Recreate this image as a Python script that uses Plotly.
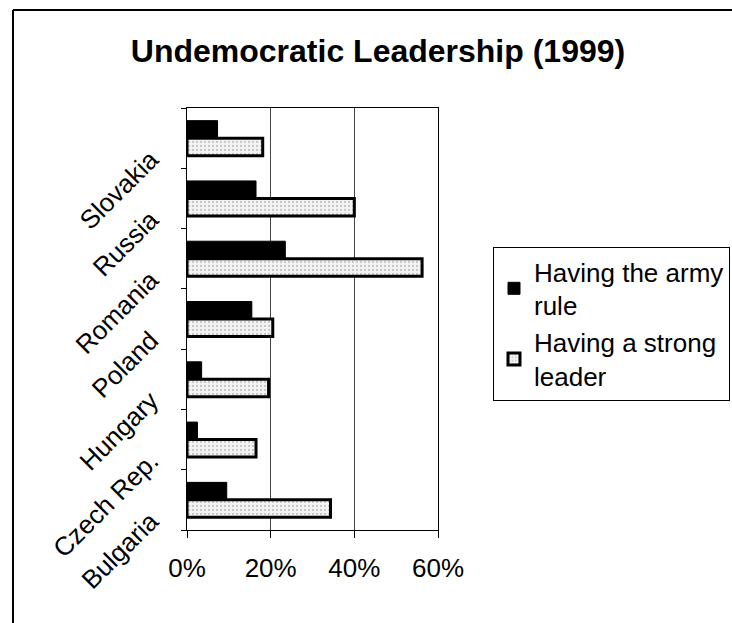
import plotly.graph_objects as go

countries = ["Bulgaria", "Czech Rep.", "Hungary", "Poland", "Romania", "Russia", "Slovakia"]
army_rule = [9.5, 2.5, 3.5, 15.5, 23.5, 16.5, 7.3]
strong_leader = [34.3, 16.5, 19.5, 20.5, 56.2, 40.0, 18.1]
x_ticks = [0, 20, 40, 60]
x_tick_labels = ["0%", "20%", "40%", "60%"]

FONT = "Arial, Liberation Sans, sans-serif"

fig = go.Figure()
fig.add_trace(go.Bar(
    y=countries, x=strong_leader, orientation="h",
    name="Having a strong<br>leader",
    marker=dict(color="#f2f2f2",
                line=dict(color="black", width=3),
                pattern=dict(shape=".", fgcolor="#9a9a9a", bgcolor="#f4f4f4",
                             size=4, solidity=0.25)),
))
fig.add_trace(go.Bar(
    y=countries, x=army_rule, orientation="h",
    name="Having the army<br>rule",
    marker=dict(color="black", line=dict(color="black", width=1)),
))

L, R, T, B = 187, 438, 108, 530
W, H = 732, 623
fig.update_layout(
    width=W, height=H,
    margin=dict(l=L, r=W - R, t=T, b=H - B, autoexpand=False),
    paper_bgcolor="white", plot_bgcolor="white",
    barmode="group", bargap=0.42, bargroupgap=0,
    font=dict(family=FONT, color="black", size=26),
    title=dict(text="<b>Undemocratic Leadership (1999)</b>",
               x=378 / W, xanchor="center", y=1 - 51 / H, yanchor="middle",
               xref="container", yref="container", font=dict(size=32, family=FONT)),
    legend=dict(x=(493 - L) / (R - L), y=(B - 247) / (B - T),
                xanchor="left", yanchor="top",
                traceorder="reversed",
                bordercolor="black", borderwidth=1, bgcolor="white",
                font=dict(size=26, family=FONT),
                tracegroupgap=2),
    showlegend=True,
)
fig.update_xaxes(range=[0, 60], tickvals=x_ticks, ticktext=x_tick_labels,
                 showgrid=True, gridcolor="#444", gridwidth=1,
                 showline=True, linecolor="black", linewidth=1, mirror=True,
                 ticks="outside", ticklen=7, tickcolor="black",
                 tickfont=dict(size=26), zeroline=False, ticklabelstandoff=8)
fig.update_yaxes(type="category", categoryorder="array", categoryarray=countries,
                 showline=True, linecolor="black", linewidth=1, mirror=True,
                 ticks="outside", ticklen=5, tickcolor="black", tickson="boundaries",
                 tickangle=-45, tickfont=dict(size=26), showgrid=False,
                 ticklabelstandoff=30, ticklabelshift=18)

fig.add_shape(type="line", xref="paper", yref="paper",
              x0=(13 - L) / (R - L), x1=(13 - L) / (R - L),
              y0=(B - 1200) / (B - T), y1=(B - 10) / (B - T),
              line=dict(color="black", width=2), layer="below")
fig.add_shape(type="line", xref="paper", yref="paper",
              x0=(13 - L) / (R - L), x1=(1500 - L) / (R - L),
              y0=(B - 10) / (B - T), y1=(B - 10) / (B - T),
              line=dict(color="black", width=2), layer="below")

fig.write_html("out.html")
